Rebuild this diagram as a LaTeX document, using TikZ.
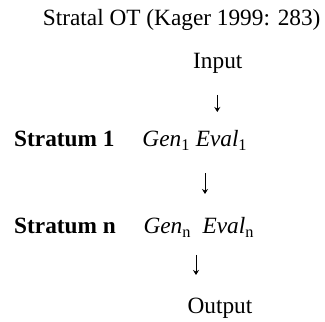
\documentclass[tikz,border=0pt]{standalone}
\usepackage{fontspec}
\setmainfont{Liberation Serif}
\usetikzlibrary{arrows.meta}
\begin{document}
\begin{tikzpicture}[x=1pt,y=1pt,
  txt/.style={inner sep=0pt, anchor=base west, font=\fontsize{23.3}{28}\selectfont},
  flow/.style={line width=0.9pt, -{Stealth[length=5pt,width=6pt]}}]
\useasboundingbox (0,0) rectangle (325,322);
% heading
\node[txt] (title) at (42.7,296) {Stratal OT (Kager 1999: 283)};
% input and output
\node[txt, anchor=base] (in) at (217.8,253.7) {Input};
\node[txt, anchor=base] (out) at (220,8.7) {Output};
% strata
\node[txt, font=\fontsize{23.3}{28}\selectfont\bfseries] (s1) at (14,175.3) {Stratum 1};
\node[txt] (ge1) at (142.3,175.3) {\textit{Gen}\textsubscript{1} \textit{Eval}\textsubscript{1}};
\node[txt, font=\fontsize{23.3}{28}\selectfont\bfseries] (sn) at (14,88.7) {Stratum n};
\node[txt] (gen) at (143.3,88.7) {\textit{Gen}\textsubscript{n}\ \ \textit{Eval}\textsubscript{n}};
% arrow end points
\coordinate (a1s) at (217.3,227);
\coordinate (a1e) at (217.3,210);
\coordinate (a2s) at (205,148.7);
\coordinate (a2e) at (205,128);
\coordinate (a3s) at (196,67);
\coordinate (a3e) at (196,47);
\draw[flow] (a1s) -- (a1e);
\draw[flow] (a2s) -- (a2e);
\draw[flow] (a3s) -- (a3e);
\end{tikzpicture}
\end{document}
